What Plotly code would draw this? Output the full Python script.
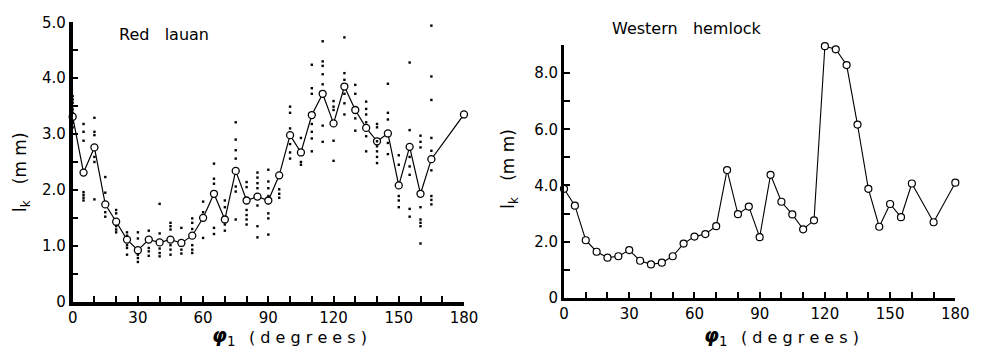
import plotly.graph_objects as go

# ---------------- data ----------------
# Red lauan: mean curve
lauan_deg = [0, 5, 10, 15, 20, 25, 30, 35, 40, 45, 50, 55, 60, 65, 70, 75, 80, 85, 90, 95,
             100, 105, 110, 115, 120, 125, 130, 135, 140, 145, 150, 155, 160, 165, 180]
lauan_mean = [3.31, 2.31, 2.76, 1.74, 1.43, 1.11, 0.92, 1.11, 1.06, 1.11, 1.05, 1.18, 1.50, 1.93,
              1.47, 2.34, 1.81, 1.88, 1.81, 2.26, 2.98, 2.67, 3.34, 3.72, 3.19, 3.85, 3.43, 3.11,
              2.87, 3.01, 2.08, 2.77, 1.93, 2.55, 3.35]

# Red lauan: individual measurements (angle, value)
lauan_dot_deg = (
    [0] * 8 + [5] * 7 + [10] * 6 + [15] * 4 + [20] * 5 + [25] * 5 + [30] * 5 + [35] * 4 +
    [40] * 5 + [45] * 6 + [50] * 3 + [55] * 6 + [60] * 3 + [65] * 5 + [70] * 4 + [75] * 7 +
    [80] * 6 + [85] * 7 + [90] * 7 + [95] * 3 + [100] * 6 + [105] * 3 + [110] * 7 + [115] * 7 +
    [120] * 5 + [125] * 6 + [130] * 4 + [135] * 6 + [140] * 7 + [145] * 5 + [150] * 5 +
    [155] * 7 + [160] * 8 + [165] * 9
)
lauan_dot_mm = [
    3.68, 3.62, 3.56, 3.50, 3.44, 3.38, 3.20, 3.12,
    3.18, 3.04, 2.88, 1.96, 1.91, 1.86, 1.81,
    3.29, 3.04, 2.98, 2.59, 2.50, 1.83,
    2.23, 1.95, 1.60, 1.52,
    1.64, 1.58, 1.35, 1.29, 1.24,
    1.24, 1.18, 1.01, 0.96, 0.84,
    1.24, 1.13, 0.84, 0.78, 0.71,
    1.27, 0.96, 0.90, 0.82,
    1.75, 1.22, 0.95, 0.87, 0.81,
    1.41, 1.35, 1.29, 1.01, 0.93, 0.84,
    1.32, 0.93, 0.86,
    1.49, 1.41, 1.30, 1.01, 0.93, 0.87,
    1.79, 1.60, 1.14,
    2.47, 2.20, 2.11, 1.32, 1.21,
    1.81, 1.69, 1.38, 1.27,
    3.21, 2.90, 2.71, 2.56, 2.06, 1.97, 1.47,
    2.14, 2.05, 1.64, 1.55, 1.47, 1.38,
    2.31, 2.22, 2.12, 2.03, 1.72, 1.35, 1.15,
    2.36, 2.15, 2.03, 1.89, 1.58, 1.49, 1.20,
    2.01, 1.93, 1.86,
    3.49, 3.38, 3.10, 2.82, 2.67, 2.56,
    2.93, 2.50, 2.45,
    4.24, 3.82, 3.72, 3.18, 3.04, 2.92, 2.69,
    4.66, 4.30, 4.22, 4.07, 3.89, 3.15, 2.86,
    3.59, 3.49, 3.43, 2.88, 2.52,
    4.73, 4.09, 3.97, 3.72, 3.55, 3.35,
    3.88, 3.72, 3.28, 3.06,
    3.58, 3.45, 3.35, 3.21, 2.96, 2.69,
    3.18, 3.12, 2.87, 2.78, 2.69, 2.59, 2.48,
    3.90, 3.38, 3.26, 2.84, 2.64,
    2.62, 2.45, 1.89, 1.81, 1.69,
    4.28, 3.07, 2.59, 2.42, 2.27, 1.66, 1.52,
    2.97, 2.86, 2.76, 1.69, 1.47, 1.41, 1.35, 1.04,
    4.94, 4.03, 3.61, 2.93, 2.70, 2.35, 1.89, 1.82, 1.74,
]

# Western hemlock
hemlock_deg = [0, 5, 10, 15, 20, 25, 30, 35, 40, 45, 50, 55, 60, 65, 70, 75, 80, 85, 90, 95,
               100, 105, 110, 115, 120, 125, 130, 135, 140, 145, 150, 155, 160, 170, 180]
hemlock_mm = [3.88, 3.28, 2.05, 1.64, 1.43, 1.48, 1.70, 1.32, 1.19, 1.25, 1.48, 1.93, 2.18, 2.27,
              2.55, 4.55, 2.98, 3.25, 2.16, 4.38, 3.42, 2.97, 2.44, 2.76, 8.96, 8.85, 8.29, 6.17,
              3.88, 2.53, 3.34, 2.87, 4.07, 2.69, 4.10]

# tick positions and labels (blank label = unlabelled tick)
x_tickvals = [0, 10, 20, 30, 40, 50, 60, 70, 80, 90, 100, 110, 120, 130, 140, 150, 160, 170, 180]
x_ticktext = ["0", "", "", "30", "", "", "60", "", "", "90", "", "", "120", "", "", "150", "", "", "180"]
left_y_tickvals = [0, 0.5, 1, 1.5, 2, 2.5, 3, 3.5, 4, 4.5, 5]
left_y_ticktext = ["0", "", "1.0", "", "2.0", "", "3.0", "", "4.0", "", "5.0"]
right_y_tickvals = [0, 1, 2, 3, 4, 5, 6, 7, 8, 9]
right_y_ticktext = ["0", "", "2.0", "", "4.0", "", "6.0", "", "8.0", ""]

# ---------------- figure ----------------
W, H = 986, 360
FONT = "DejaVu Sans"

fig = go.Figure()

# left panel: mean line with open circles
fig.add_trace(go.Scatter(
    x=lauan_deg, y=lauan_mean, mode="lines+markers", xaxis="x", yaxis="y",
    line=dict(color="black", width=1.2),
    marker=dict(symbol="circle", size=7, color="white", line=dict(color="black", width=1.3)),
    cliponaxis=False, showlegend=False,
))
# left panel: individual dots
fig.add_trace(go.Scatter(
    x=lauan_dot_deg, y=lauan_dot_mm, mode="markers", xaxis="x", yaxis="y",
    marker=dict(symbol="square", size=2.4, color="black", line=dict(width=0)),
    cliponaxis=False, showlegend=False,
))
# right panel
fig.add_trace(go.Scatter(
    x=hemlock_deg, y=hemlock_mm, mode="lines+markers", xaxis="x2", yaxis="y2",
    line=dict(color="black", width=1.1),
    marker=dict(symbol="circle", size=7, color="white", line=dict(color="black", width=1.2)),
    cliponaxis=False, showlegend=False,
))


def px_x(p):
    return p / W


def px_y(p):
    return 1 - p / H


axis_common = dict(
    showgrid=False, zeroline=False, showline=True, linecolor="black",
    tickmode="array", ticks="inside", ticklen=6, tickwidth=2, tickcolor="black",
    tickfont=dict(family=FONT, size=15, color="black"),
)

# axis lines are drawn just outside the plotting area, so the domains are nudged
# by half a line width to keep the line centred on the reference position
fig.update_layout(
    width=W, height=H,
    margin=dict(l=0, r=0, t=0, b=0),
    paper_bgcolor="white", plot_bgcolor="white",
    xaxis=dict(domain=[px_x(69), px_x(468)], range=[0, 180], anchor="y",
               tickvals=x_tickvals, ticktext=x_ticktext, linewidth=3.5, **axis_common),
    yaxis=dict(domain=[px_y(308), px_y(14)], range=[0, 5], anchor="x",
               tickvals=left_y_tickvals, ticktext=left_y_ticktext, linewidth=3.5, **axis_common),
    xaxis2=dict(domain=[px_x(570), px_x(969)], range=[0, 180], anchor="y2",
                tickvals=x_tickvals, ticktext=x_ticktext, linewidth=3, **axis_common),
    yaxis2=dict(domain=[px_y(304), px_y(38)], range=[0, 9], anchor="x2",
                tickvals=right_y_tickvals, ticktext=right_y_ticktext, linewidth=3, **axis_common),
)

NB = "\u00a0"
annots = [
    # panel titles
    dict(text="Red" + NB * 3 + "lauan", x=px_x(162), y=px_y(27), size=16, angle=0),
    dict(text="Western" + NB * 3 + "hemlock", x=px_x(695), y=px_y(21), size=16, angle=0),
    # y-axis titles
    dict(text="l<sub>k</sub>" + NB * 3 + "(m m)", x=px_x(17), y=px_y(172), size=17, angle=-90),
    dict(text="l<sub>k</sub>" + NB * 3 + "(m m)", x=px_x(515), y=px_y(168), size=17, angle=-90),
    # x-axis titles
    dict(text="<b><i>φ</i></b><sub>1</sub>", x=px_x(223), y=px_y(345), size=19, angle=0),
    dict(text="( d e g r e e s )", x=px_x(309), y=px_y(346), size=16, angle=0),
    dict(text="<b><i>φ</i></b><sub>1</sub>", x=px_x(724), y=px_y(345), size=19, angle=0),
    dict(text="( d e g r e e s )", x=px_x(811), y=px_y(346), size=16, angle=0),
]
for a in annots:
    fig.add_annotation(
        text=a["text"], x=a["x"], y=a["y"], xref="paper", yref="paper",
        xanchor="center", yanchor="middle", showarrow=False, textangle=a["angle"],
        font=dict(family=FONT, size=a["size"], color="black"),
    )

fig.write_html("out.html")
